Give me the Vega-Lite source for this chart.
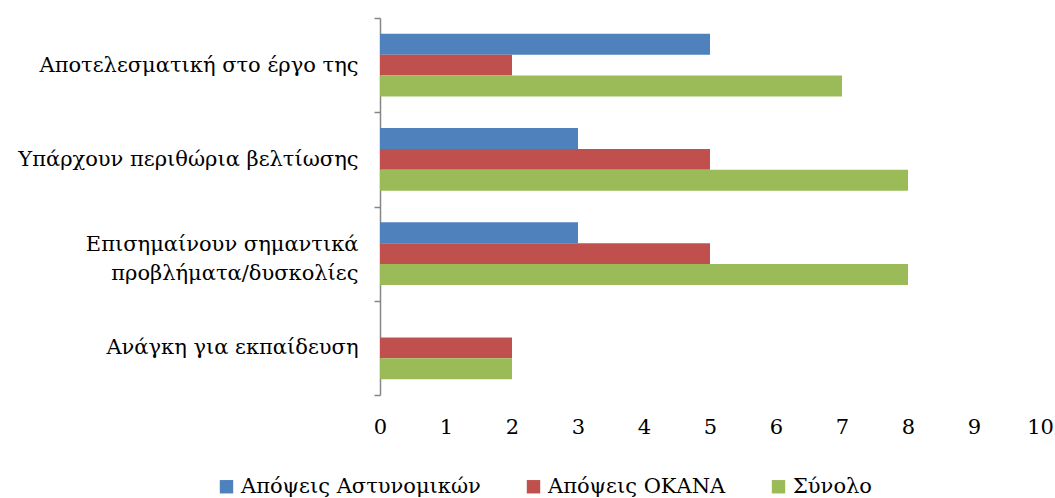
{
  "$schema": "https://vega.github.io/schema/vega-lite/v6.json",
  "width": 660,
  "height": 377,
  "autosize": {"type": "none"},
  "padding": {"left": 380, "top": 18, "right": 15, "bottom": 103},
  "background": "white",
  "config": {"view": {"stroke": null}, "font": "DejaVu Serif"},
  "data": {
    "values": [
      {"category": "Αποτελεσματική στο έργο της", "series": "Απόψεις Αστυνομικών", "value": 5},
      {"category": "Αποτελεσματική στο έργο της", "series": "Απόψεις ΟΚΑΝΑ", "value": 2},
      {"category": "Αποτελεσματική στο έργο της", "series": "Σύνολο", "value": 7},
      {"category": "Υπάρχουν περιθώρια βελτίωσης", "series": "Απόψεις Αστυνομικών", "value": 3},
      {"category": "Υπάρχουν περιθώρια βελτίωσης", "series": "Απόψεις ΟΚΑΝΑ", "value": 5},
      {"category": "Υπάρχουν περιθώρια βελτίωσης", "series": "Σύνολο", "value": 8},
      {"category": "Επισημαίνουν σημαντικά προβλήματα/δυσκολίες", "series": "Απόψεις Αστυνομικών", "value": 3},
      {"category": "Επισημαίνουν σημαντικά προβλήματα/δυσκολίες", "series": "Απόψεις ΟΚΑΝΑ", "value": 5},
      {"category": "Επισημαίνουν σημαντικά προβλήματα/δυσκολίες", "series": "Σύνολο", "value": 8},
      {"category": "Ανάγκη για εκπαίδευση", "series": "Απόψεις ΟΚΑΝΑ", "value": 2},
      {"category": "Ανάγκη για εκπαίδευση", "series": "Σύνολο", "value": 2}
    ]
  },
  "mark": {"type": "bar"},
  "encoding": {
    "y": {
      "field": "category",
      "type": "nominal",
      "sort": null,
      "scale": {
        "domain": ["Αποτελεσματική στο έργο της", "Υπάρχουν περιθώρια βελτίωσης", "Επισημαίνουν σημαντικά προβλήματα/δυσκολίες", "Ανάγκη για εκπαίδευση"],
        "paddingInner": 0,
        "paddingOuter": 0
      },
      "axis": {
        "title": null,
        "tickBand": "extent",
        "domainColor": "#868686",
        "domainWidth": 1.5,
        "tickColor": "#868686",
        "tickWidth": 1.5,
        "tickSize": 6,
        "labelFontSize": 21,
        "labelColor": "#000000",
        "labelFont": "DejaVu Serif",
        "labelPadding": 16,
        "labelLimit": 400,
        "labelLineHeight": 29,
        "labelOffset": {"condition": {"test": "datum.value == 'Επισημαίνουν σημαντικά προβλήματα/δυσκολίες'", "value": -9}, "value": 0},
        "labelExpr": "datum.value == 'Επισημαίνουν σημαντικά προβλήματα/δυσκολίες' ? ['Επισημαίνουν σημαντικά', 'προβλήματα/δυσκολίες'] : datum.label"
      }
    },
    "yOffset": {
      "field": "series",
      "type": "nominal",
      "scale": {
        "domain": ["Απόψεις Αστυνομικών", "Απόψεις ΟΚΑΝΑ", "Σύνολο"],
        "paddingInner": 0,
        "paddingOuter": 0.745
      }
    },
    "x": {
      "field": "value",
      "type": "quantitative",
      "scale": {"domain": [0, 10], "nice": false},
      "axis": {
        "title": null,
        "values": [0, 1, 2, 3, 4, 5, 6, 7, 8, 9, 10],
        "domain": false,
        "ticks": false,
        "grid": false,
        "labelFontSize": 21,
        "labelColor": "#000000",
        "labelFont": "DejaVu Serif",
        "labelPadding": 21,
        "labelFlush": false
      }
    },
    "color": {
      "field": "series",
      "type": "nominal",
      "scale": {
        "domain": ["Απόψεις Αστυνομικών", "Απόψεις ΟΚΑΝΑ", "Σύνολο"],
        "range": ["#4F81BD", "#C0504D", "#9BBB59"]
      },
      "legend": {
        "title": null,
        "orient": "none",
        "legendX": -164,
        "legendY": 458,
        "direction": "horizontal",
        "columns": 3,
        "symbolType": "square",
        "symbolSize": 180,
        "symbolStrokeWidth": 0,
        "labelFontSize": 21,
        "labelFont": "DejaVu Serif",
        "labelColor": "#000000",
        "labelOffset": 4,
        "columnPadding": 42,
        "labelLimit": 400
      }
    }
  }
}
